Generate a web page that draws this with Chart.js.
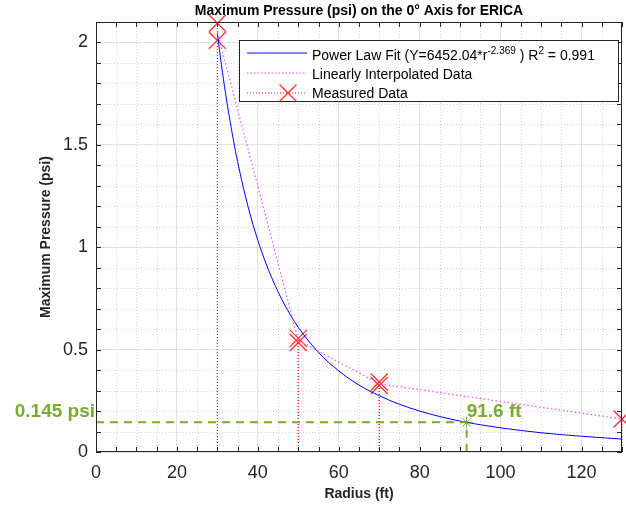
<!DOCTYPE html>
<html><head><meta charset="utf-8">
<script src="https://cdn.jsdelivr.net/npm/chart.js@4"></script>
<style>html,body{margin:0;padding:0;background:#fff}#wrap{width:626px;height:506px}</style>
</head><body><div id="wrap"><canvas id="c" width="626" height="506"></canvas></div>
<script>
// ---- data ----
const fitRadius   = [30, 31, 32, 33, 34, 35, 36, 38, 40, 42, 45, 48, 50, 55, 60, 65, 70, 75, 80, 85, 90, 95, 100, 110, 120, 130];
const fitPressure = [2.044, 1.891, 1.754, 1.631, 1.519, 1.418, 1.327, 1.167, 1.034, 0.921, 0.782, 0.671, 0.609, 0.486, 0.396, 0.327, 0.275, 0.233, 0.200, 0.173, 0.151, 0.133, 0.118, 0.094, 0.077, 0.063];
const interpRadius   = [30, 50, 70, 130];
const interpPressure = [2.05, 0.545, 0.333, 0.161];
const measuredRadius   = [30, 30, 50, 50, 70, 70, 130];
const measuredPressure = [2.094, 2.01, 0.555, 0.535, 0.342, 0.325, 0.161];
const thresholdRadius = 91.6;
const thresholdPressure = 0.145;
const xTicks = [0, 20, 40, 60, 80, 100, 120];
const xTickLabels = ['0', '20', '40', '60', '80', '100', '120'];
const yTicks = [0, 0.5, 1, 1.5, 2];
const yTickLabels = ['0', '0.5', '1', '1.5', '2'];
const xRange = [0, 130];
const yRange = [0, 2.1];
const xMinorStep = 5, yMinorStep = 0.1;

const FONT = '"Liberation Sans", Arial, Helvetica, sans-serif';
const GREEN = '#77AC30';
const AX = '#262626';

const fitData = fitRadius.map((r, i) => ({x: r, y: fitPressure[i]}));
const interpData = interpRadius.map((r, i) => ({x: r, y: interpPressure[i]}));
const measuredData = measuredRadius.map((r, i) => ({x: r, y: measuredPressure[i]}));
const stemData = [];
measuredRadius.forEach((r, i) => { stemData.push({x: r, y: 0}, {x: r, y: measuredPressure[i]}, {x: null, y: null}); });
const thresholdData = [{x: xRange[0], y: thresholdPressure}, {x: thresholdRadius, y: thresholdPressure}, {x: thresholdRadius, y: 0}];

const decor = {
  id: 'decor',
  beforeDatasetsDraw(chart) {
    const {ctx, chartArea: a, scales: {x, y}} = chart;
    ctx.save();
    ctx.strokeStyle = '#d2d2d2'; ctx.lineWidth = 1; ctx.setLineDash([1, 2]);
    for (let v = xRange[0]; v <= xRange[1] + 1e-9; v += xMinorStep) {
      if (xTicks.some(t => Math.abs(t - v) < 1e-6) || v === xRange[1]) continue;
      const px = Math.round(x.getPixelForValue(v)) + 0.5;
      ctx.beginPath(); ctx.moveTo(px, a.top); ctx.lineTo(px, a.bottom); ctx.stroke();
    }
    for (let k = 1; k * yMinorStep < yRange[1] - 1e-9; k++) {
      const v = k * yMinorStep;
      if (yTicks.some(t => Math.abs(t - v) < 1e-6)) continue;
      const py = Math.round(y.getPixelForValue(v)) + 0.5;
      ctx.beginPath(); ctx.moveTo(a.left, py); ctx.lineTo(a.right, py); ctx.stroke();
    }
    ctx.restore();
  },
  afterDatasetsDraw(chart) {
    const {ctx, chartArea: a, scales: {x, y}} = chart;
    ctx.save();
    ctx.strokeStyle = AX; ctx.lineWidth = 1; ctx.setLineDash([]);
    ctx.strokeRect(Math.round(a.left) + 0.5, Math.round(a.top) + 0.5, Math.round(a.right - a.left) - 1, Math.round(a.bottom - a.top) - 1);
    const tl = 5;
    ctx.beginPath();
    for (let v = xRange[0]; v <= xRange[1] + 1e-9; v += xMinorStep) {
      const px = Math.round(x.getPixelForValue(v)) + 0.5;
      ctx.moveTo(px, a.bottom); ctx.lineTo(px, a.bottom - tl);
      ctx.moveTo(px, a.top); ctx.lineTo(px, a.top + tl);
    }
    for (let k = 0; k * yMinorStep < yRange[1] + 1e-9; k++) {
      const py = Math.round(y.getPixelForValue(k * yMinorStep)) + 0.5;
      ctx.moveTo(a.left, py); ctx.lineTo(a.left + tl, py);
      ctx.moveTo(a.right, py); ctx.lineTo(a.right - tl, py);
    }
    ctx.stroke();
    ctx.fillStyle = GREEN;
    ctx.font = 'bold 19px ' + FONT;
    ctx.textBaseline = 'alphabetic';
    const ty = y.getPixelForValue(thresholdPressure);
    ctx.textAlign = 'right';
    ctx.fillText(thresholdPressure + ' psi', a.left - 1, ty - 5);
    ctx.textAlign = 'left';
    ctx.fillText(thresholdRadius + ' ft', x.getPixelForValue(thresholdRadius), ty - 5);
    ctx.restore();
  },
  afterDraw(chart) {
    const {ctx} = chart;
    ctx.save();
    const L = 239.5, T = 40.5, W = 379, H = 61;
    ctx.fillStyle = '#fff'; ctx.fillRect(L, T, W, H);
    ctx.strokeStyle = AX; ctx.lineWidth = 1; ctx.strokeRect(L, T, W, H);
    const x0 = 247, x1 = 307, tx = 312;
    ctx.strokeStyle = '#0000ff'; ctx.setLineDash([]);
    ctx.beginPath(); ctx.moveTo(x0, 53); ctx.lineTo(x1, 53); ctx.stroke();
    ctx.strokeStyle = '#ff44ff'; ctx.setLineDash([1.5, 2]);
    ctx.beginPath(); ctx.moveTo(x0, 73); ctx.lineTo(x1, 73); ctx.stroke();
    ctx.strokeStyle = '#ff2020'; ctx.setLineDash([1, 2]);
    ctx.beginPath(); ctx.moveTo(x0, 93); ctx.lineTo(x1, 93); ctx.stroke();
    ctx.setLineDash([]);
    ctx.strokeStyle = '#ff3030'; ctx.lineWidth = 1.3;
    ctx.beginPath(); ctx.moveTo(279.5, 84.5); ctx.lineTo(296.5, 101.5); ctx.moveTo(296.5, 84.5); ctx.lineTo(279.5, 101.5); ctx.stroke();
    ctx.fillStyle = '#000'; ctx.textAlign = 'left'; ctx.textBaseline = 'alphabetic';
    const big = '14px ' + FONT, small = '10px ' + FONT;
    let cx = tx;
    const parts = [['Power Law Fit (Y=6452.04*r', big, 60], ['-2.369', small, 53.5], [' ) R', big, 60], ['2', small, 53.5], [' = 0.991', big, 60]];
    for (const [s, f, by] of parts) { ctx.font = f; ctx.fillText(s, cx, by); cx += ctx.measureText(s).width; }
    ctx.font = big;
    ctx.fillText('Linearly Interpolated Data', tx, 79);
    ctx.fillText('Measured Data', tx, 98);
    ctx.restore();
  }
};

new Chart(document.getElementById('c'), {
  type: 'scatter',
  data: {
    datasets: [
      {label: 'Threshold', data: thresholdData, showLine: true, borderColor: GREEN, borderWidth: 2, borderDash: [8, 6], pointRadius: 0, fill: false},
      {label: 'Stems', data: stemData, showLine: true, spanGaps: false, borderColor: '#ff2020', borderWidth: 1, borderDash: [1, 2], pointRadius: 0, clip: false},
      {label: 'Linearly Interpolated Data', data: interpData, showLine: true, borderColor: '#ff44ff', borderWidth: 1.2, borderDash: [1.5, 2.5], pointRadius: 0},
      {label: 'Power Law Fit', data: fitData, showLine: true, borderColor: '#0000ff', borderWidth: 1, pointRadius: 0, cubicInterpolationMode: 'monotone'},
      {label: 'Measured Data', data: measuredData, showLine: false, pointStyle: 'crossRot', pointRadius: 12, pointBorderColor: '#ff3030', pointBorderWidth: 1.3, clip: false},
      {label: 'Threshold point', data: [{x: thresholdRadius, y: thresholdPressure}], showLine: false, pointStyle: 'star', pointRadius: 6, pointBorderColor: GREEN, pointBorderWidth: 1}
    ]
  },
  options: {
    responsive: false, animation: false, devicePixelRatio: 1,
    layout: {autoPadding: false, padding: {left: 0, right: 4, top: 0, bottom: 0}},
    plugins: {
      legend: {display: false}, tooltip: {enabled: false},
      title: {display: true, text: 'Maximum Pressure (psi) on the 0° Axis for ERICA', fullSize: false, color: '#000', font: {family: FONT, size: 14, weight: 'bold'}, padding: {top: 3, bottom: 2.2}}
    },
    scales: {
      x: {
        type: 'linear', min: xRange[0], max: xRange[1],
        afterBuildTicks: s => { s.ticks = xTicks.map(v => ({value: v})); },
        afterFit: s => { s.height = 54; s.paddingLeft = 0; s.paddingRight = 0; },
        ticks: {color: AX, font: {family: FONT, size: 18}, padding: 10, maxRotation: 0, autoSkip: false,
                callback: v => xTickLabels[xTicks.indexOf(v)]},
        grid: {color: '#e2e2e2', drawTicks: false},
        border: {display: false},
        title: {display: true, text: 'Radius (ft)', color: AX, font: {family: FONT, size: 14, weight: 'bold'}, padding: {top: 0, bottom: 3}}
      },
      y: {
        type: 'linear', min: yRange[0], max: yRange[1],
        afterBuildTicks: s => { s.ticks = yTicks.map(v => ({value: v})); },
        afterFit: s => { s.width = 96; s.paddingTop = 0; s.paddingBottom = 0; },
        ticks: {color: AX, font: {family: FONT, size: 18}, padding: 8, autoSkip: false,
                callback: v => yTickLabels[yTicks.indexOf(v)]},
        grid: {color: '#e2e2e2', drawTicks: false},
        border: {display: false},
        title: {display: true, text: 'Maximum Pressure (psi)', color: AX, font: {family: FONT, size: 14, weight: 'bold'}, padding: {top: 38, bottom: 0}}
      }
    }
  },
  plugins: [decor]
});
</script></body></html>
